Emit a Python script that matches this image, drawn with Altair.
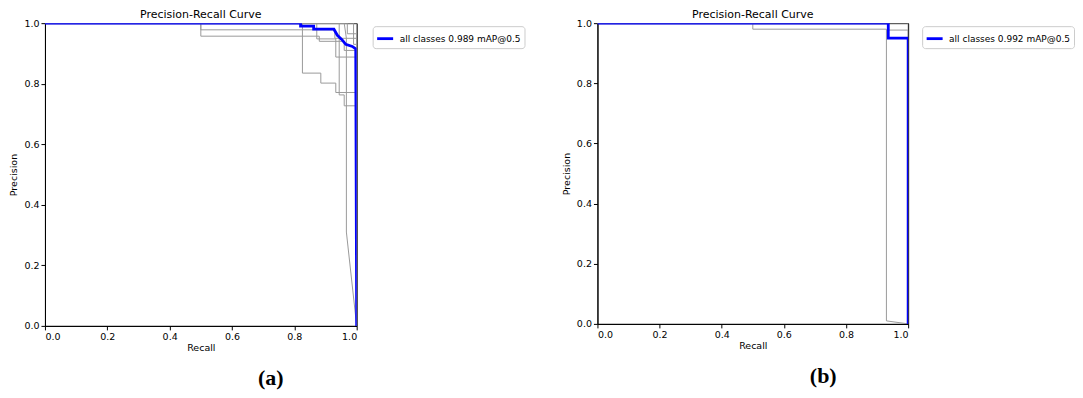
import altair as alt
import pandas as pd

# ---------------- panel (a) data ----------------
a_names = ["c1", "c2", "c3", "c4", "c5", "c6", "c7", "c8", "c9"]
a_recall = [
    [0, 1.0, 1.0],
    [0, 0.5, 0.5, 0.93, 0.93, 1.0, 1.0],
    [0, 0.5, 0.5, 0.88, 0.88, 0.96, 0.96, 1.0, 1.0],
    [0, 0.826, 0.826, 0.885, 0.885, 0.933, 0.933, 1.0, 1.0],
    [0, 0.872, 0.872, 0.933, 0.933, 1.0, 1.0],
    [0, 0.944, 0.944, 0.96, 0.96, 1.0, 1.0],
    [0, 0.96, 0.967, 0.967, 1.0],
    [0, 0.97, 0.97, 1.0, 1.0],
    [0, 0.99, 0.99, 1.0, 1.0],
]
a_precision = [
    [1.0, 1.0, 0.0],
    [1.0, 1.0, 0.978, 0.978, 0.95, 0.95, 0.0],
    [1.0, 1.0, 0.957, 0.957, 0.94, 0.94, 0.91, 0.91, 0.0],
    [1.0, 1.0, 0.835, 0.835, 0.802, 0.802, 0.771, 0.771, 0.0],
    [1.0, 1.0, 0.948, 0.948, 0.888, 0.888, 0.0],
    [1.0, 1.0, 0.763, 0.763, 0.727, 0.727, 0.0],
    [1.0, 1.0, 0.95, 0.31, 0.0],
    [1.0, 1.0, 0.965, 0.965, 0.0],
    [1.0, 1.0, 0.93, 0.93, 0.0],
]
a_mean_recall = [0, 0.82, 0.82, 0.862, 0.862, 0.927, 0.938, 0.954, 0.965, 0.986, 0.997, 1.0]
a_mean_precision = [1.0, 1.0, 0.99, 0.99, 0.98, 0.98, 0.96, 0.944, 0.93, 0.923, 0.915, 0.0]
a_legend = "all classes 0.989 mAP@0.5"
a_label = "(a)"

# ---------------- panel (b) data ----------------
b_names = ["c1", "c2", "c3"]
b_recall = [
    [0, 1.0, 1.0],
    [0, 0.5, 0.5, 0.93, 0.93, 1.0],
    [0, 0.936, 0.936, 1.0, 1.0],
]
b_precision = [
    [1.0, 1.0, 0.0],
    [1.0, 1.0, 0.98, 0.98, 0.01, 0.0],
    [1.0, 1.0, 0.977, 0.977, 0.0],
]
b_mean_recall = [0, 0.936, 0.936, 1.0, 1.0]
b_mean_precision = [1.0, 1.0, 0.95, 0.95, 0.0]
b_legend = "all classes 0.992 mAP@0.5"
b_label = "(b)"

TICKS = [0.0, 0.2, 0.4, 0.6, 0.8, 1.0]


def class_frame(names, recalls, precisions):
    rows = []
    for n, rs, ps in zip(names, recalls, precisions):
        for i, (r, p) in enumerate(zip(rs, ps)):
            rows.append({"cls": n, "idx": i, "recall": r, "precision": p})
    return pd.DataFrame(rows)


def mean_frame(rs, ps, legend_text):
    return pd.DataFrame({"idx": list(range(len(rs))), "recall": rs,
                         "precision": ps, "series": legend_text})


def panel(names, recalls, precisions, mrs, mps, legend_text, label, w, h, lx):
    xenc = alt.X("recall:Q", title="Recall",
                 scale=alt.Scale(domain=[0, 1], nice=False),
                 axis=alt.Axis(values=TICKS, format=".1f", titlePadding=1))
    yenc = alt.Y("precision:Q", title="Precision",
                 scale=alt.Scale(domain=[0, 1], nice=False),
                 axis=alt.Axis(values=TICKS, format=".1f", titlePadding=5))
    grey = alt.Chart(class_frame(names, recalls, precisions)).mark_line(
        color="#9a9a9a", strokeWidth=1, clip=True
    ).encode(x=xenc, y=yenc, detail="cls:N", order="idx:Q")
    blue = alt.Chart(mean_frame(mrs, mps, legend_text)).mark_line(
        strokeWidth=2.8, clip=True
    ).encode(
        x=xenc, y=yenc, order="idx:Q",
        color=alt.Color("series:N",
                        scale=alt.Scale(domain=[legend_text], range=["#0000ff"]),
                        legend=alt.Legend(orient="none", legendX=w + lx, legendY=3,
                                          title=None, symbolType="stroke",
                                          symbolStrokeWidth=2.8, symbolSize=256,
                                          labelFontSize=9, labelFont="DejaVu Sans",
                                          labelColor="black", labelOffset=5,
                                          strokeColor="#cccccc", cornerRadius=3,
                                          padding=3, fillColor="white")),
    )
    lab = alt.Chart(pd.DataFrame({"t": [label]})).mark_text(
        font="Liberation Serif", fontSize=22, fontWeight="bold", color="black"
    ).encode(text="t:N", x=alt.value(226), y=alt.value(h + 52))
    return alt.layer(grey, blue, lab).properties(
        width=w, height=h,
        title=alt.TitleParams("Precision-Recall Curve", fontSize=11,
                              font="DejaVu Sans", fontWeight="normal",
                              color="black", offset=-2),
    )


pa = panel(a_names, a_recall, a_precision, a_mean_recall, a_mean_precision,
           a_legend, a_label, 312, 303, 16)
pb = panel(b_names, b_recall, b_precision, b_mean_recall, b_mean_precision,
           b_legend, b_label, 311, 301, 14)

chart = alt.hconcat(pa, pb, spacing=241, bounds="flush", padding=0).resolve_scale(
    color="independent"
).resolve_legend(color="independent").configure_view(
    stroke="black", strokeWidth=1
).configure_axis(
    grid=False, domainColor="black", tickColor="black", labelColor="black",
    titleColor="black", labelFont="DejaVu Sans", titleFont="DejaVu Sans",
    labelFontSize=9.5, titleFontSize=9.5, titleFontWeight="normal",
    tickSize=4, labelPadding=2, titlePadding=3
).properties(background="white")

chart.save("out.html", embed_options={"renderer": "svg", "actions": False})
